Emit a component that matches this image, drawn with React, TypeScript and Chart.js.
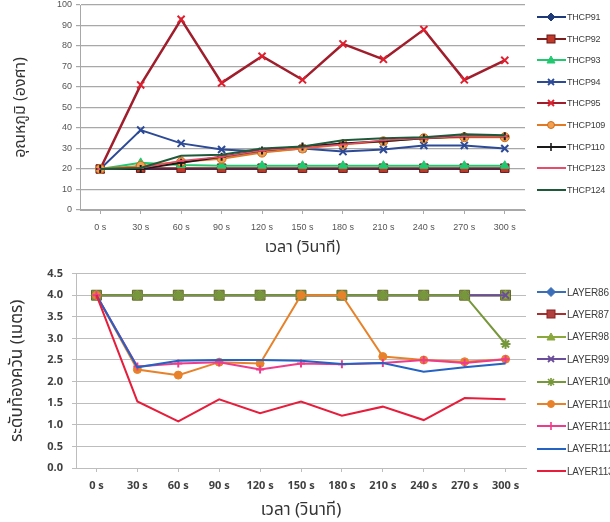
import React, { useEffect, useRef } from 'react';
import { Chart, registerables } from 'chart.js';
Chart.register(...registerables);

const timeLabels = ['0 s', '30 s', '60 s', '90 s', '120 s', '150 s', '180 s', '210 s', '240 s', '270 s', '300 s'];

// Top chart: temperature
const tempTicks = [0, 10, 20, 30, 40, 50, 60, 70, 80, 90, 100];
const tempNames = ['THCP91', 'THCP92', 'THCP93', 'THCP94', 'THCP95', 'THCP109', 'THCP110', 'THCP123', 'THCP124'];
const thcp91 = [20, 20, 20, 20, 20, 20, 20, 20, 20, 20, 20];
const thcp92 = [20, 20.4, 20.4, 20.4, 20.4, 20.4, 20.4, 20.4, 20.4, 20.4, 20.4];
const thcp93 = [20, 23, 22, 21.6, 21.6, 21.6, 21.6, 21.6, 21.6, 21.6, 21.6];
const thcp94 = [20, 39, 32.5, 29.5, 28.5, 30, 28.5, 29.5, 31.5, 31.5, 30];
const thcp95 = [20, 61, 93, 62, 75, 63.5, 81, 73.5, 88, 63.5, 73];
const thcp109 = [20, 21.5, 23.5, 25, 28, 30, 32, 33.5, 35, 35.5, 35.5];
const thcp110 = [20, 20, 23, 26, 29, 31, 32.5, 33.5, 35, 36, 36];
const thcp123 = [20, 20.5, 24, 26, 29, 30.5, 32, 34, 35, 36, 36];
const thcp124 = [20, 20.5, 26.5, 27, 30, 31, 34, 35, 35.5, 37, 36.5];
const tempValues = [thcp91, thcp92, thcp93, thcp94, thcp95, thcp109, thcp110, thcp123, thcp124];

// Bottom chart: smoke layer height
const layerTicks = [0, 0.5, 1, 1.5, 2, 2.5, 3, 3.5, 4, 4.5];
const layerNames = ['LAYER86', 'LAYER87', 'LAYER98', 'LAYER99', 'LAYER100', 'LAYER110', 'LAYER111', 'LAYER112', 'LAYER113'];
const layer86 = [4, 4, 4, 4, 4, 4, 4, 4, 4, 4, 4];
const layer87 = [4, 4, 4, 4, 4, 4, 4, 4, 4, 4, 4];
const layer98 = [4, 4, 4, 4, 4, 4, 4, 4, 4, 4, 4];
const layer99 = [4, 4, 4, 4, 4, 4, 4, 4, 4, 4, 4];
const layer100 = [4, 4, 4, 4, 4, 4, 4, 4, 4, 4, 2.87];
const layer110 = [4, 2.28, 2.15, 2.45, 2.42, 4, 4, 2.58, 2.5, 2.46, 2.52];
const layer111 = [4, 2.35, 2.42, 2.45, 2.28, 2.42, 2.4, 2.43, 2.5, 2.43, 2.52];
const layer112 = [4, 2.33, 2.48, 2.5, 2.5, 2.48, 2.41, 2.43, 2.23, 2.33, 2.42];
const layer113 = [4, 1.54, 1.08, 1.59, 1.27, 1.54, 1.21, 1.42, 1.11, 1.62, 1.59];
const layerValues = [layer86, layer87, layer98, layer99, layer100, layer110, layer111, layer112, layer113];

type Style = { line: string; width: number; marker: string; radius: number; fill: string; stroke: string; legendFill?: string; legendStroke?: string };

const tempStyles: Style[] = [
  { line: '#1F3A78', width: 2, marker: 'rectRot', radius: 4, fill: '#1F3A78', stroke: '#1F3A78' },
  { line: '#7A1E1E', width: 2, marker: 'rect', radius: 6, fill: '#C0392B', stroke: '#6A1A1A' },
  { line: '#22C870', width: 2, marker: 'triangle', radius: 5, fill: '#22C870', stroke: '#22C870' },
  { line: '#2C4A96', width: 2, marker: 'crossRot', radius: 5, fill: '#2C4A96', stroke: '#2C4A96' },
  { line: '#A01E2C', width: 2.5, marker: 'crossRot', radius: 5, fill: '#E0202E', stroke: '#E0202E' },
  { line: '#E07A24', width: 2, marker: 'circle', radius: 4.5, fill: '#F0A050', stroke: '#D06A18' },
  { line: '#1A1A1A', width: 2, marker: 'cross', radius: 4, fill: '#1A1A1A', stroke: '#1A1A1A' },
  { line: '#E84C6A', width: 1.5, marker: 'line', radius: 3, fill: '#E84C6A', stroke: '#E84C6A' },
  { line: '#1E5A3A', width: 2, marker: 'none', radius: 0, fill: '#1E5A3A', stroke: '#1E5A3A' },
];

const layerStyles: Style[] = [
  { line: '#3A6EB8', width: 2, marker: 'rectRot', radius: 4.5, fill: '#3A6EB8', stroke: '#3A6EB8' },
  { line: '#A8302E', width: 2, marker: 'rect', radius: 7, fill: '#8E9A3C', stroke: '#5E6A24', legendFill: '#B04040', legendStroke: '#8A2020' },
  { line: '#8AA83C', width: 2, marker: 'triangle', radius: 5, fill: '#8AA83C', stroke: '#8AA83C' },
  { line: '#6A4E9C', width: 2, marker: 'crossRot', radius: 5, fill: '#6A4E9C', stroke: '#6A4E9C' },
  { line: '#76983A', width: 2, marker: 'star', radius: 5, fill: '#76983A', stroke: '#76983A' },
  { line: '#E8822A', width: 2, marker: 'circle', radius: 4, fill: '#E8822A', stroke: '#E8822A' },
  { line: '#EE3C8C', width: 2, marker: 'cross', radius: 4, fill: '#EE3C8C', stroke: '#EE3C8C' },
  { line: '#2462C4', width: 2, marker: 'none', radius: 0, fill: '#2462C4', stroke: '#2462C4' },
  { line: '#E61E3C', width: 2, marker: 'none', radius: 0, fill: '#E61E3C', stroke: '#E61E3C' },
];

function makeDatasets(names: string[], values: number[][], styles: Style[]) {
  const n = names.length;
  return names.map((name, i) => {
    const s = styles[i];
    return {
      label: name,
      data: values[i],
      borderColor: s.line,
      backgroundColor: s.fill,
      borderWidth: s.width,
      pointStyle: s.marker === 'none' ? false : s.marker,
      pointRadius: s.radius,
      pointBackgroundColor: s.fill,
      pointBorderColor: s.stroke,
      pointBorderWidth: s.marker === 'cross' || s.marker === 'crossRot' || s.marker === 'star' || s.marker === 'line' ? 2 : 1,
      tension: 0,
      order: n - i,
    };
  });
}

function Marker({ s }: { s: Style }) {
  const cx = 14, cy = 5;
  const fill = s.legendFill || s.fill;
  const stroke = s.legendStroke || s.stroke;
  const r = Math.min(s.radius, 5);
  switch (s.marker) {
    case 'rectRot':
      return <polygon points={`${cx},${cy - r} ${cx + r},${cy} ${cx},${cy + r} ${cx - r},${cy}`} fill={fill} stroke={stroke} />;
    case 'rect':
      return <rect x={cx - 4} y={cy - 4} width={8} height={8} fill={fill} stroke={stroke} />;
    case 'triangle':
      return <polygon points={`${cx},${cy - 4} ${cx + 4},${cy + 3} ${cx - 4},${cy + 3}`} fill={fill} stroke={stroke} />;
    case 'crossRot':
      return <path d={`M${cx - 3} ${cy - 3}L${cx + 3} ${cy + 3}M${cx + 3} ${cy - 3}L${cx - 3} ${cy + 3}`} stroke={stroke} strokeWidth={1.8} />;
    case 'star':
      return <path d={`M${cx - 3} ${cy - 3}L${cx + 3} ${cy + 3}M${cx + 3} ${cy - 3}L${cx - 3} ${cy + 3}M${cx} ${cy - 4}L${cx} ${cy + 4}`} stroke={stroke} strokeWidth={1.6} />;
    case 'circle':
      return <circle cx={cx} cy={cy} r={3.5} fill={fill} stroke={stroke} />;
    case 'cross':
      return <path d={`M${cx} ${cy - 4}L${cx} ${cy + 4}`} stroke={stroke} strokeWidth={1.6} />;
    default:
      return null;
  }
}

function Legend({ names, styles, top, gap, fontSize }: { names: string[]; styles: Style[]; top: number; gap: number; fontSize: number }) {
  return (
    <>
      {names.map((name, i) => (
        <div key={name} style={{ position: 'absolute', left: 537, top: top + i * gap - 6, height: 12, display: 'flex', alignItems: 'center', whiteSpace: 'nowrap' }}>
          <svg width={29} height={10} style={{ display: 'block' }}>
            <line x1={0} y1={5} x2={29} y2={5} stroke={styles[i].line} strokeWidth={2} />
            <Marker s={styles[i]} />
          </svg>
          <span style={{ fontFamily: '"Liberation Sans", "DejaVu Sans", sans-serif', fontSize, color: '#3C3C3C', marginLeft: 1, letterSpacing: -0.2 }}>{name}</span>
        </div>
      ))}
    </>
  );
}

const thaiFont = '"Noto Sans Thai", "Noto Sans", "DejaVu Sans", sans-serif';

export default function App() {
  const topRef = useRef<HTMLCanvasElement>(null);
  const botRef = useRef<HTMLCanvasElement>(null);

  useEffect(() => {
    const gridTop = '#A8A8A8';
    const top = new Chart(topRef.current as HTMLCanvasElement, {
      type: 'line',
      data: { labels: timeLabels, datasets: makeDatasets(tempNames, tempValues, tempStyles) as any },
      options: {
        animation: false,
        responsive: false,
        layout: { padding: { top: 17, right: 85, left: 0, bottom: 0 } },
        plugins: { legend: { display: false }, tooltip: { enabled: false } },
        scales: {
          x: {
            type: 'category',
            offset: true,
            afterFit: (s: any) => { s.height = 48; },
            grid: { drawOnChartArea: false, drawTicks: true, tickLength: 4, offset: false, color: gridTop },
            border: { display: true, color: gridTop },
            ticks: { padding: 8, color: '#555', font: { family: '"Liberation Sans", sans-serif', size: 9 }, maxRotation: 0, autoSkip: false },
            title: { display: true, text: 'เวลา (วินาที)', color: '#333', font: { family: thaiFont, size: 16 }, padding: { top: 0, bottom: 0 } },
          },
          y: {
            min: 0,
            max: 100,
            afterFit: (s: any) => { s.width = 80; },
            afterBuildTicks: (s: any) => { s.ticks = tempTicks.map((v) => ({ value: v })); },
            grid: { color: gridTop, lineWidth: 1.2, tickLength: 4 },
            border: { display: true, color: gridTop },
            ticks: { padding: 4, color: '#555', font: { family: '"Liberation Sans", sans-serif', size: 9 } },
            title: { display: true, text: 'อุณหภูมิ (องศา)', color: '#333', font: { family: thaiFont, size: 16 }, padding: { top: 12, bottom: 0 } },
          },
        },
      },
    });

    const gridBot = '#BDBDBD';
    const bot = new Chart(botRef.current as HTMLCanvasElement, {
      type: 'line',
      data: { labels: timeLabels, datasets: makeDatasets(layerNames, layerValues, layerStyles) as any },
      options: {
        animation: false,
        responsive: false,
        layout: { padding: { top: 15, right: 84, left: 0, bottom: 0 } },
        plugins: { legend: { display: false }, tooltip: { enabled: false } },
        scales: {
          x: {
            type: 'category',
            offset: true,
            afterFit: (s: any) => { s.height = 54; },
            grid: { drawOnChartArea: false, drawTicks: true, tickLength: 4, offset: false, color: gridBot },
            border: { display: true, color: gridBot },
            ticks: { padding: 7, color: '#404040', font: { family: '"Open Sans", "Noto Sans", sans-serif', size: 11, weight: 'bold' }, maxRotation: 0, autoSkip: false },
            title: { display: true, text: 'เวลา (วินาที)', color: '#333', font: { family: thaiFont, size: 17 }, padding: { top: 0, bottom: 0 } },
          },
          y: {
            min: 0,
            max: 4.5,
            afterFit: (s: any) => { s.width = 76; },
            afterBuildTicks: (s: any) => { s.ticks = layerTicks.map((v) => ({ value: v })); },
            grid: { color: gridBot, lineWidth: 1, tickLength: 4 },
            border: { display: true, color: gridBot },
            ticks: { padding: 9, color: '#404040', font: { family: '"Open Sans", "Noto Sans", sans-serif', size: 11, weight: 'bold' }, callback: (v: any) => Number(v).toFixed(1) },
            title: { display: true, text: 'ระดับท้องควัน (เมตร)', color: '#333', font: { family: thaiFont, size: 17 }, padding: { top: 8, bottom: 0 } },
          },
        },
      },
    });

    return () => { top.destroy(); bot.destroy(); };
  }, []);

  return (
    <div style={{ position: 'fixed', left: 0, top: 0, width: 610, height: 522, overflow: 'hidden', background: '#fff' }}>
      <canvas ref={topRef} width={610} height={270} style={{ position: 'absolute', left: 0, top: -12, width: 610, height: 270 }} />
      <canvas ref={botRef} width={610} height={264} style={{ position: 'absolute', left: 0, top: 258, width: 610, height: 264 }} />
      <Legend names={tempNames} styles={tempStyles} top={17} gap={21.6} fontSize={9} />
      <Legend names={layerNames} styles={layerStyles} top={292} gap={22.4} fontSize={10} />
    </div>
  );
}
